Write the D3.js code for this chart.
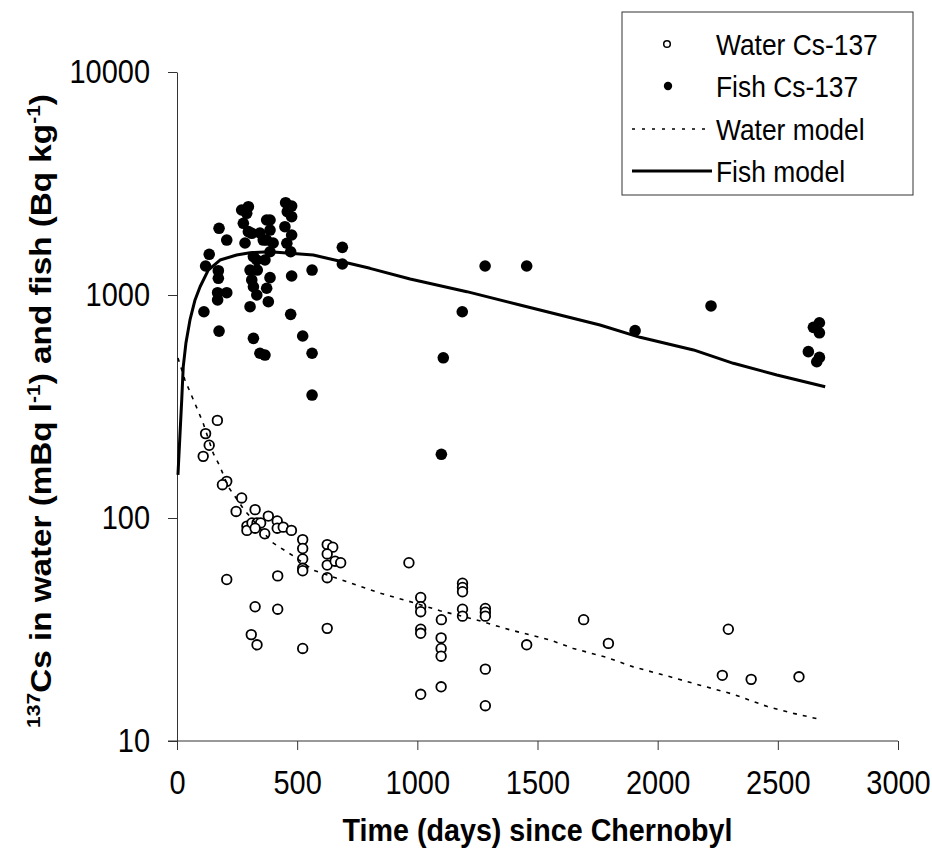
<!DOCTYPE html>
<html>
<head>
<meta charset="utf-8">
<script src="https://cdn.jsdelivr.net/npm/d3@7"></script>
<style>
  html, body { margin: 0; padding: 0; background: #fff; }
  svg { display: block; }
  text { font-family: "Liberation Sans", Arial, Helvetica, sans-serif; fill: #000; }
</style>
</head>
<body>
<svg id="chart" width="932" height="853"></svg>
<script>
// ---- Data ----
const xTicks = [0, 500, 1000, 1500, 2000, 2500, 3000];
const yTicks = [10, 100, 1000, 10000];
const legendLabels = ["Water Cs-137", "Fish Cs-137", "Water model", "Fish model"];
const xTitle = "Time (days) since Chernobyl";

// [day, mBq/l]
const waterPoints = [
  [168,274],[119,239],[134,212],[109,189],[207,146],[189,141],[269,123],[246,107],
  [325,109],[380,102],[291,92],[291,88],[312,95],[333,95],[348,95],[325,90],
  [417,97],[417,90],[442,91],[476,88],[365,85],[523,80],[523,73],[523,65.5],
  [523,59.5],[523,58],[625,76],[648,74],[625,69],[625,61.5],[658,64],[681,63],
  [625,54],[207,53],[419,55],[325,40],[419,39],[309,30],[333,27],[523,26],[625,32],
  [965,63],[1014,44],[1014,40],[1014,38],[1014,31.7],[1014,30.4],[1100,35],
  [1099,29],[1099,26],[1099,24],[1188,51],[1188,48.8],[1188,46.7],[1188,39],
  [1188,36.3],[1283,39.3],[1283,37.8],[1283,36.3],[1283,21],[1283,14.4],
  [1014,16.2],[1099,17.5],[1455,27],[1692,35],[1795,27.4],[2294,31.7],
  [2269,19.7],[2389,18.9],[2588,19.4]
];

// [day, Bq/kg]
const fishPoints = [
  [175,1991],[207,1764],[134,1522],[119,1349],[172,1285],[172,1188],[169,1024],
  [207,1024],[169,950],[112,841],[175,689],[297,2489],[290,2325],[373,2169],
  [387,2169],[297,1923],[345,1897],[283,1711],[373,1764],[400,1711],[387,1563],
  [332,1435],[366,1435],[452,2594],[477,2506],[459,2363],[477,2244],[449,2024],
  [477,1858],[457,1706],[473,1563],[304,1294],[334,1294],[387,1196],[311,1168],
  [318,1089],[373,1072],[332,1000],[380,933],[304,886],[477,1217],[562,1294],
  [688,1636],[688,1377],[473,819],[318,639],[345,548],[366,538],[523,655],
  [562,548],[562,356],[1282,1349],[1455,1349],[1187,841],[1108,523],[1100,193],
  [1906,692],[2222,893],[2673,751],[2648,716],[2673,677],[2627,557],[2673,525],
  [2662,502],[269,2405],[276,2097],[311,1891],[359,1764],[318,1485],[387,1956]
];

const waterModel = [
  [4,522],[33,416],[89,300],[109,266],[151,195],[179,170],[213,138],[262,116],
  [276,110],[394,78],[484,67.6],[567,58.4],[706,51.8],[845,46],[956,42.6],
  [1094,38.4],[1247,34.9],[1386,31.5],[1552,28.4],[1649,26],[1788,23.7],
  [1899,21.5],[2052,19.4],[2176,17.8],[2315,16.2],[2454,14.3],[2565,13.3],[2662,12.6]
];

const fishModel = [
  [4,156],[20,345],[26,477],[37,607],[54,773],[75,950],[96,1089],[130,1294],
  [179,1435],[248,1511],[304,1547],[387,1563],[567,1511],[688,1410],[803,1317],
  [970,1179],[1206,1035],[1427,902],[1760,734],[1927,646],[2149,567],[2315,494],
  [2496,438],[2697,388]
];

// ---- Layout ----
const plot = { left: 177, right: 898, top: 72, bottom: 741 };
const svg = d3.select("#chart");
const FONT = '"Liberation Sans", Arial, sans-serif';
const stretchY = 1.12;   // glyphs in the reference are slightly tall/narrow

const x = d3.scaleLinear().domain([0, 3000]).range([plot.left, plot.right]);
const y = d3.scaleLog().domain([10, 10000]).range([plot.bottom, plot.top]);

// axes
const xAxis = d3.axisBottom(x).tickValues(xTicks).tickFormat(d3.format("d"))
  .tickSize(9).tickSizeOuter(0).tickPadding(22);
const yAxis = d3.axisLeft(y).tickValues(yTicks).tickFormat(d3.format("d"))
  .tickSize(9).tickSizeOuter(0).tickPadding(18);

const gx = svg.append("g").attr("transform", `translate(0,${plot.bottom})`).call(xAxis);
const gy = svg.append("g").attr("transform", `translate(${plot.left},0)`).call(yAxis);
[gx, gy].forEach(g => {
  g.select(".domain").attr("stroke", "#333").attr("stroke-width", 1);
  g.selectAll(".tick line").attr("stroke", "#333").attr("stroke-width", 1);
  g.selectAll(".tick text").attr("font-size", 29)
    .attr("font-family", FONT).attr("fill", "#000");
});
// slight vertical stretch of tick labels about their centres
const xc = 9 + 22 + 0.71 * 29 - 0.358 * 29;
gx.selectAll(".tick text")
  .attr("transform", `translate(0,${xc}) scale(1,${stretchY}) translate(0,${-xc})`);
gy.selectAll(".tick text").attr("transform", `scale(1,${stretchY})`);
// extend x axis line to meet the y tick
gx.select(".domain").attr("d", `M${plot.left - 9},0H${plot.right}`);

// x title
const xt = svg.append("text")
  .attr("text-anchor", "middle").attr("font-weight", "bold").attr("font-size", 30)
  .text(xTitle);
const xtLen = xt.node().getComputedTextLength();
xt.attr("transform",
  `translate(${(plot.left + plot.right) / 2},841) scale(${390 / xtLen},1.05)`);

// y title
const yt = svg.append("text")
  .attr("text-anchor", "middle").attr("font-weight", "bold").attr("font-size", 30);
yt.append("tspan").attr("font-size", 19).attr("dy", -11).text("137");
yt.append("tspan").attr("dy", 11).text("Cs in water (mBq l");
yt.append("tspan").attr("font-size", 19).attr("dy", -11).text("-1");
yt.append("tspan").attr("dy", 11).text(") and fish (Bq kg");
yt.append("tspan").attr("font-size", 19).attr("dy", -11).text("-1");
yt.append("tspan").attr("dy", 11).text(")");
const ytLen = yt.node().getComputedTextLength();
yt.attr("transform", `translate(51,411) rotate(-90) scale(${634 / ytLen},1)`);

// points
svg.append("g").selectAll("circle").data(waterPoints).join("circle")
  .attr("cx", d => x(d[0])).attr("cy", d => y(d[1])).attr("r", 4.8)
  .attr("fill", "#fff").attr("stroke", "#000").attr("stroke-width", 1.8);

svg.append("g").selectAll("circle").data(fishPoints).join("circle")
  .attr("cx", d => x(d[0])).attr("cy", d => y(d[1])).attr("r", 5.8)
  .attr("fill", "#000");

// model lines
const line = d3.line().x(d => x(d[0])).y(d => y(d[1]));
svg.append("path").datum(waterModel).attr("d", line)
  .attr("fill", "none").attr("stroke", "#000").attr("stroke-width", 1.6)
  .attr("stroke-dasharray", "4,6");
svg.append("path").datum(fishModel).attr("d", line)
  .attr("fill", "none").attr("stroke", "#000").attr("stroke-width", 3)
  .attr("stroke-linejoin", "round");

// legend
const lg = svg.append("g");
lg.append("rect").attr("x", 622).attr("y", 12).attr("width", 291).attr("height", 183)
  .attr("fill", "#fff").attr("stroke", "#333").attr("stroke-width", 1);
const rowY = [44, 86, 129, 171];
lg.selectAll("text").data(legendLabels).join("text")
  .attr("x", 0).attr("y", 0).attr("dy", "0.36em")
  .attr("transform", (d, i) => `translate(716,${rowY[i]}) scale(0.91,1.02)`)
  .attr("font-size", 29).text(d => d);
lg.append("circle").attr("cx", 667).attr("cy", rowY[0]).attr("r", 3.3)
  .attr("fill", "#fff").attr("stroke", "#000").attr("stroke-width", 1.5);
lg.append("circle").attr("cx", 668).attr("cy", rowY[1]).attr("r", 4.2).attr("fill", "#000");
lg.append("line").attr("x1", 632).attr("x2", 706).attr("y1", rowY[2]).attr("y2", rowY[2])
  .attr("stroke", "#000").attr("stroke-width", 1.5).attr("stroke-dasharray", "3,7");
lg.append("line").attr("x1", 632).attr("x2", 712).attr("y1", rowY[3]).attr("y2", rowY[3])
  .attr("stroke", "#000").attr("stroke-width", 3);
</script>
</body>
</html>
